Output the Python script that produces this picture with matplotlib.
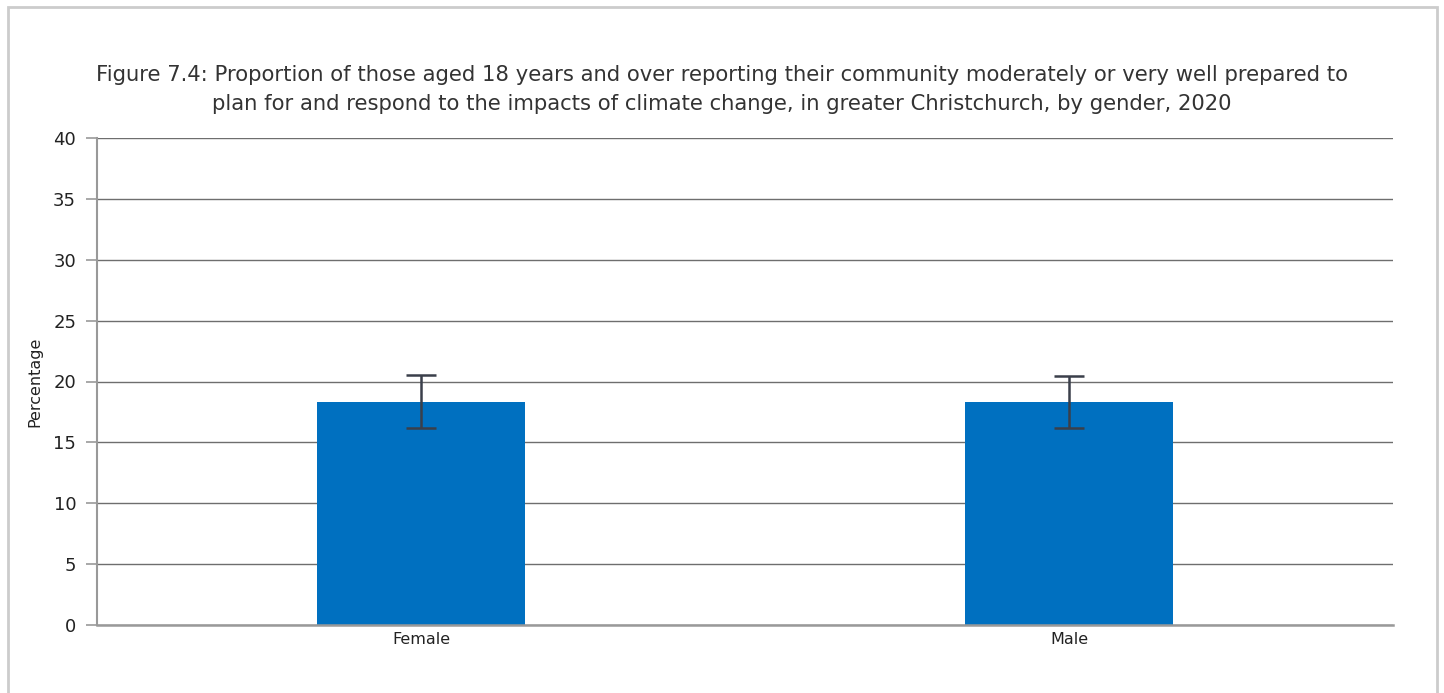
import matplotlib
matplotlib.use("Agg")
import matplotlib.pyplot as plt
from matplotlib.patches import Rectangle

categories = ["Female", "Male"]
values = [18.3, 18.3]
err_low = [16.2, 16.2]
err_high = [20.55, 20.45]

plt.rcParams['font.family'] = ['DejaVu Sans']

fig = plt.figure(figsize=(14.44, 6.93), dpi=100)
ax = fig.add_axes([97/1444, 1-625/693, (1393-97)/1444, (625-138)/693])

x = list(range(len(categories)))
yerr = [[v - l for v, l in zip(values, err_low)], [h - v for v, h in zip(values, err_high)]]
ax.bar(x, values, width=0.32, color="#0070c0", zorder=2)
ax.errorbar(x, values, yerr=yerr, fmt="none", ecolor="#3a3f4a", elinewidth=1.8,
            capsize=11, capthick=1.8, zorder=3)

ax.set_xlim(-0.5, 1.5)
ax.set_ylim(0, 40)
ax.set_yticks(range(0, 41, 5))
ax.yaxis.grid(True, color="#6e6e6e", linewidth=1.0, zorder=0)
ax.set_axisbelow(True)
ax.set_xticks(x)
ax.set_xticklabels(categories, fontsize=11.5, color="#222222")
ax.tick_params(axis='x', length=0, pad=5)
ax.tick_params(axis='y', length=8, width=1.2, color="#999999", labelsize=13, labelcolor="#222222", pad=7)
for s in ["top", "right"]:
    ax.spines[s].set_visible(False)
ax.spines["left"].set_color("#999999")
ax.spines["left"].set_linewidth(1.5)
ax.spines["bottom"].set_color("#999999")
ax.spines["bottom"].set_linewidth(1.8)
ax.set_ylabel("Percentage", fontsize=11.5, color="#222222")
ax.yaxis.set_label_coords((42-97)/1296, 0.5)

fig.text(0.5, 1-75/693, "Figure 7.4: Proportion of those aged 18 years and over reporting their community moderately or very well prepared to",
         ha="center", va="center", fontsize=15.2, color="#333333")
fig.text(0.5, 1-104/693, "plan for and respond to the impacts of climate change, in greater Christchurch, by gender, 2020",
         ha="center", va="center", fontsize=15.2, color="#333333")

fig.patches.append(Rectangle((8/1444, -0.05), (1437-8)/1444, 1.05-7/693, transform=fig.transFigure,
                             fill=False, edgecolor="#cccccc", linewidth=2))

fig.savefig("out.png", dpi=100)
